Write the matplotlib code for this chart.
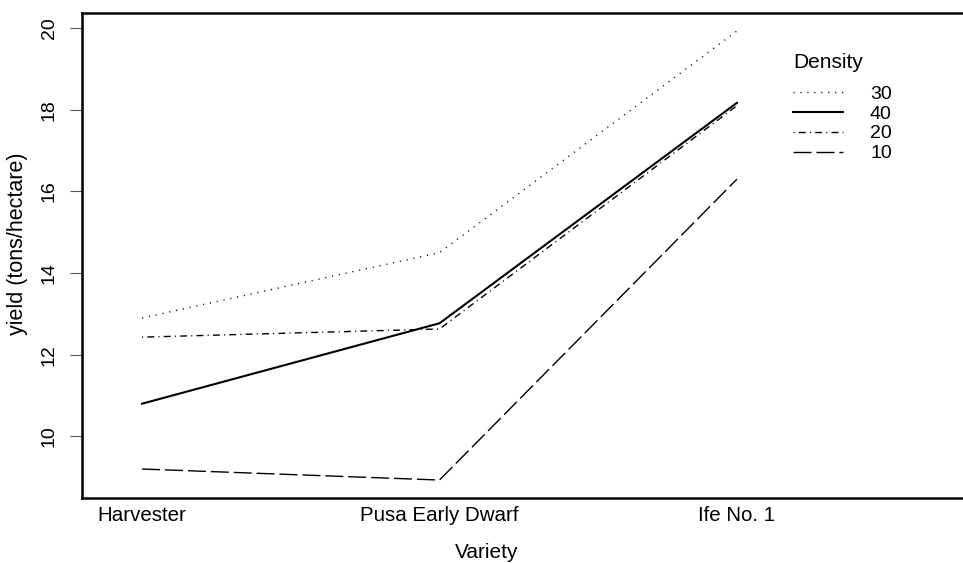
import numpy as np
import matplotlib
matplotlib.use("Agg")
import matplotlib.pyplot as plt

plt.rcParams['font.family'] = ['Liberation Sans', 'DejaVu Sans']

# tomato yield: cell means by variety and planting density
varieties = ["Harvester", "Pusa Early Dwarf", "Ife No. 1"]
densities = ["30", "40", "20", "10"]
yield_30 = [12.90, 14.50, 19.93]
yield_40 = [10.80, 12.77, 18.17]
yield_20 = [12.43, 12.63, 18.10]
yield_10 = [9.20, 8.93, 16.30]

W, H = 963, 563
fig = plt.figure(figsize=(W / 100, H / 100), dpi=100)
ax = fig.add_axes([82 / W, 1 - 498 / H, 1 - 82 / W, (498 - 13) / H])

x = np.arange(1, len(varieties) + 1)
styles = {
    "30": dict(ls=(0, (0.8, 4.2)), lw=1.0),
    "40": dict(ls="-", lw=1.5),
    "20": dict(ls=(0, (0.8, 3.0, 5.0, 3.0)), lw=1.0),
    "10": dict(ls=(0, (13, 3.5)), lw=1.0),
}
series = {"30": yield_30, "40": yield_40, "20": yield_20, "10": yield_10}

handles = []
for d in densities:
    h, = ax.plot(x, series[d], color="black", label=d, **styles[d])
    handles.append(h)

ax.set_xlim(0.798, 3.76)
ax.set_ylim(8.49, 20.37)

ax.set_xticks(x)
ax.set_xticklabels(varieties, fontsize=14.8)
ax.tick_params(axis="x", length=0, pad=6)
ax.set_yticks([10, 12, 14, 16, 18, 20])
ax.tick_params(axis="y", length=8.5, width=0.8, color="#555555", labelsize=14, pad=9)
for lab in ax.get_yticklabels():
    lab.set_rotation(90)
    lab.set_va("center")

for s in ["left", "top", "bottom"]:
    ax.spines[s].set_linewidth(1.8)
ax.spines["right"].set_visible(False)

fig.text(17 / W, 1 - 244 / H, "yield (tons/hectare)", rotation=90,
         ha="center", va="center", fontsize=15.5)
fig.text(487 / W, 1 - 552 / H, "Variety", ha="center", va="center", fontsize=15)

leg = ax.legend(handles=handles, title="Density", frameon=False, fontsize=14,
                title_fontsize=15, loc="upper left",
                bbox_to_anchor=((793 - 82) / (W - 82), (498 - 53.5) / (498 - 13)),
                handlelength=2.57, handletextpad=1.39, labelspacing=0.12,
                borderpad=0, borderaxespad=0, alignment="left")
leg._legend_box.sep = 9

fig.savefig("out.png", dpi=100)
